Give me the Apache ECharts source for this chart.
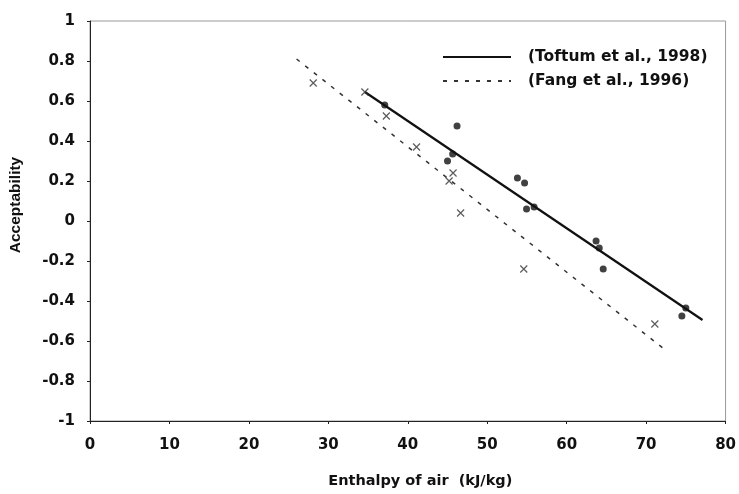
<!DOCTYPE html>
<html>
<head>
<meta charset="utf-8">
<script src="https://cdn.jsdelivr.net/npm/echarts@6/dist/echarts.min.js"></script>
<style>
  html, body { margin: 0; padding: 0; background: #fff; }
  #chart { width: 739px; height: 494px; }
</style>
</head>
<body>
<div id="chart"></div>
<script>
// fitted lines, endpoints [enthalpy, acceptability]
var toftumLine = [[34.6, 0.645], [77.1, -0.495]];
var fangLine = [[26.0, 0.81], [72.1, -0.635]];

// measured points
var toftumPoints = [
    [37.1, 0.58], [45.0, 0.30], [45.65, 0.335], [46.2, 0.475],
    [53.8, 0.215], [54.7, 0.19], [54.95, 0.06], [55.9, 0.07],
    [63.7, -0.10], [64.1, -0.135], [64.6, -0.24], [75.0, -0.435], [74.5, -0.475]
];
var fangPoints = [
    [28.1, 0.69], [34.6, 0.645], [37.3, 0.525], [41.1, 0.37], [45.7, 0.24],
    [45.2, 0.20], [46.65, 0.04], [54.6, -0.24], [71.1, -0.515]
];

var legendNames = ['(Toftum et al., 1998)', '(Fang et al., 1996)'];
var xTitle = 'Enthalpy of air  (kJ/kg)';
var yTitle = 'Acceptability';

// scanned figure has wide glyphs, DejaVu bold gets close to that
var WIDE = 'DejaVu Sans, sans-serif';
var NARROW = 'Liberation Sans, Arial, sans-serif';
var CROSS = 'path://M0,0L10,10M10,0L0,10';

var myChart = echarts.init(document.getElementById('chart'));
var option = {
    animation: false,
    backgroundColor: '#fff',
    grid: {
        left: 89, right: 13, top: 21, bottom: 72,
        show: true, borderColor: '#999', borderWidth: 1
    },
    legend: {
        data: legendNames,
        orient: 'vertical',
        left: 437, top: 44,
        itemWidth: 68, itemHeight: 14, itemGap: 8,
        itemStyle: { opacity: 0 },
        textStyle: { fontFamily: WIDE, fontWeight: 'bold', fontSize: 15.5, color: '#111', padding: [0, 0, 0, 12] }
    },
    xAxis: {
        type: 'value', min: 0, max: 80, interval: 10,
        name: xTitle, nameLocation: 'middle', nameGap: 53,
        nameTextStyle: { fontFamily: WIDE, fontWeight: 'bold', fontSize: 14.5, color: '#111', padding: [0, 0, 0, 25] },
        axisLine: { onZero: false, lineStyle: { color: '#222', width: 1 } },
        axisTick: { length: 3, lineStyle: { color: '#222' } },
        axisLabel: { fontFamily: WIDE, fontWeight: 'bold', fontSize: 15, color: '#111', margin: 17 },
        splitLine: { show: false }
    },
    yAxis: {
        type: 'value', min: -1, max: 1, interval: 0.2,
        name: yTitle, nameLocation: 'middle', nameGap: 66,
        nameTextStyle: { fontFamily: NARROW, fontWeight: 'bold', fontSize: 15.5, color: '#111', padding: [0, 0, 0, 32] },
        axisLine: { show: true, onZero: false, lineStyle: { color: '#222', width: 1 } },
        axisTick: { show: true, length: 3, lineStyle: { color: '#222' } },
        axisLabel: { fontFamily: WIDE, fontWeight: 'bold', fontSize: 15, color: '#111', margin: 15 },
        splitLine: { show: false }
    },
    series: [
        {
            name: legendNames[0], type: 'line', data: toftumLine, symbol: 'none',
            lineStyle: { color: '#111', width: 2.2 }, itemStyle: { color: '#111' }, z: 3
        },
        {
            name: legendNames[1], type: 'line', data: fangLine, symbol: 'none',
            lineStyle: { color: '#333', width: 1.5, type: [4, 7] }, itemStyle: { color: '#333' }, z: 3
        },
        {
            name: 'toftumPts', type: 'scatter', data: toftumPoints, symbol: 'circle', symbolSize: 7,
            itemStyle: { color: '#111' }, z: 4
        },
        {
            name: 'fangPts', type: 'scatter', data: fangPoints, symbol: CROSS, symbolSize: 7,
            itemStyle: { color: 'none', borderColor: '#333', borderWidth: 1.2 }, z: 4
        }
    ]
};
myChart.setOption(option);
</script>
</body>
</html>
